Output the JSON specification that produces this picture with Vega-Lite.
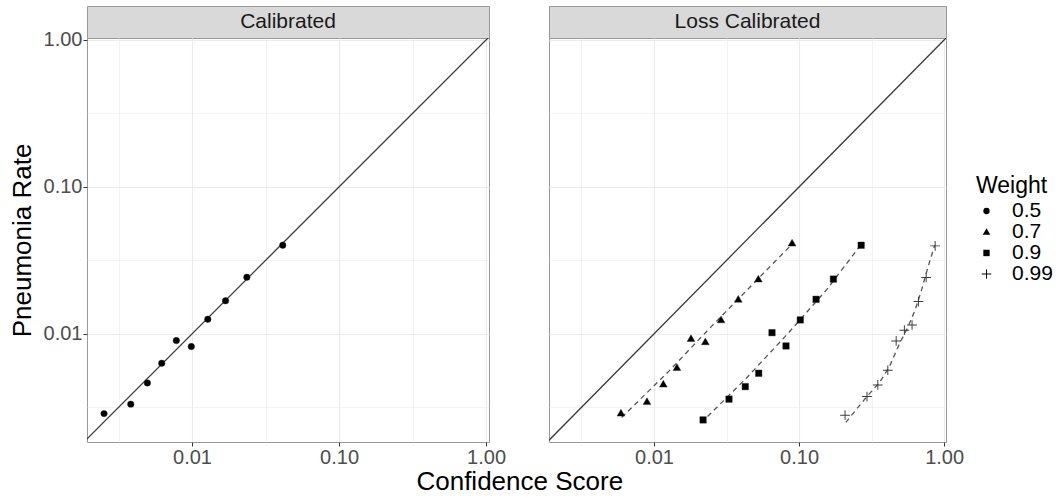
{
  "$schema": "https://vega.github.io/schema/vega-lite/v6.json",
  "padding": {"left": 8, "top": 5, "right": 5, "bottom": 5},
  "datasets": {
    "strips": [{"panel": "Calibrated"}, {"panel": "Loss Calibrated"}],
    "diag": [{"score": 0.001, "rate": 0.001}, {"score": 2, "rate": 2}],
    "pts": [
      {"panel": "Calibrated", "weight": "0.5", "score": 0.00252, "rate": 0.00287},
      {"panel": "Calibrated", "weight": "0.5", "score": 0.00383, "rate": 0.00333},
      {"panel": "Calibrated", "weight": "0.5", "score": 0.00497, "rate": 0.00464},
      {"panel": "Calibrated", "weight": "0.5", "score": 0.00622, "rate": 0.00632},
      {"panel": "Calibrated", "weight": "0.5", "score": 0.00782, "rate": 0.00901},
      {"panel": "Calibrated", "weight": "0.5", "score": 0.00989, "rate": 0.0082},
      {"panel": "Calibrated", "weight": "0.5", "score": 0.0128, "rate": 0.0126},
      {"panel": "Calibrated", "weight": "0.5", "score": 0.0169, "rate": 0.0168},
      {"panel": "Calibrated", "weight": "0.5", "score": 0.0236, "rate": 0.0243},
      {"panel": "Calibrated", "weight": "0.5", "score": 0.0414, "rate": 0.0401},
      {"panel": "Loss Calibrated", "weight": "0.7", "score": 0.00592, "rate": 0.00289},
      {"panel": "Loss Calibrated", "weight": "0.7", "score": 0.00895, "rate": 0.00346},
      {"panel": "Loss Calibrated", "weight": "0.7", "score": 0.0116, "rate": 0.00455},
      {"panel": "Loss Calibrated", "weight": "0.7", "score": 0.0144, "rate": 0.0059},
      {"panel": "Loss Calibrated", "weight": "0.7", "score": 0.018, "rate": 0.00929},
      {"panel": "Loss Calibrated", "weight": "0.7", "score": 0.0226, "rate": 0.00883},
      {"panel": "Loss Calibrated", "weight": "0.7", "score": 0.029, "rate": 0.01245},
      {"panel": "Loss Calibrated", "weight": "0.7", "score": 0.0381, "rate": 0.0172},
      {"panel": "Loss Calibrated", "weight": "0.7", "score": 0.0524, "rate": 0.0236},
      {"panel": "Loss Calibrated", "weight": "0.7", "score": 0.0895, "rate": 0.0414},
      {"panel": "Loss Calibrated", "weight": "0.9", "score": 0.0218, "rate": 0.0026},
      {"panel": "Loss Calibrated", "weight": "0.9", "score": 0.0329, "rate": 0.0036},
      {"panel": "Loss Calibrated", "weight": "0.9", "score": 0.0426, "rate": 0.00438},
      {"panel": "Loss Calibrated", "weight": "0.9", "score": 0.0527, "rate": 0.0054},
      {"panel": "Loss Calibrated", "weight": "0.9", "score": 0.0651, "rate": 0.0102},
      {"panel": "Loss Calibrated", "weight": "0.9", "score": 0.0813, "rate": 0.00828},
      {"panel": "Loss Calibrated", "weight": "0.9", "score": 0.102, "rate": 0.01245},
      {"panel": "Loss Calibrated", "weight": "0.9", "score": 0.131, "rate": 0.0172},
      {"panel": "Loss Calibrated", "weight": "0.9", "score": 0.1725, "rate": 0.0236},
      {"panel": "Loss Calibrated", "weight": "0.9", "score": 0.268, "rate": 0.0401},
      {"panel": "Loss Calibrated", "weight": "0.99", "score": 0.2075, "rate": 0.0028},
      {"panel": "Loss Calibrated", "weight": "0.99", "score": 0.294, "rate": 0.00375},
      {"panel": "Loss Calibrated", "weight": "0.99", "score": 0.349, "rate": 0.0045},
      {"panel": "Loss Calibrated", "weight": "0.99", "score": 0.409, "rate": 0.00566},
      {"panel": "Loss Calibrated", "weight": "0.99", "score": 0.467, "rate": 0.00896},
      {"panel": "Loss Calibrated", "weight": "0.99", "score": 0.532, "rate": 0.0106},
      {"panel": "Loss Calibrated", "weight": "0.99", "score": 0.601, "rate": 0.0115},
      {"panel": "Loss Calibrated", "weight": "0.99", "score": 0.665, "rate": 0.0166},
      {"panel": "Loss Calibrated", "weight": "0.99", "score": 0.752, "rate": 0.0242},
      {"panel": "Loss Calibrated", "weight": "0.99", "score": 0.867, "rate": 0.0397}
    ],
    "dash": [
      {"weight": "0.7", "score": 0.00598, "rate": 0.0027},
      {"weight": "0.7", "score": 0.0125, "rate": 0.0055},
      {"weight": "0.7", "score": 0.025, "rate": 0.0113},
      {"weight": "0.7", "score": 0.05, "rate": 0.0227},
      {"weight": "0.7", "score": 0.092, "rate": 0.042},
      {"weight": "0.9", "score": 0.0234, "rate": 0.00274},
      {"weight": "0.9", "score": 0.0433, "rate": 0.005},
      {"weight": "0.9", "score": 0.0833, "rate": 0.01},
      {"weight": "0.9", "score": 0.155, "rate": 0.02},
      {"weight": "0.9", "score": 0.27, "rate": 0.041},
      {"weight": "0.99", "score": 0.21, "rate": 0.0025},
      {"weight": "0.99", "score": 0.29, "rate": 0.0037},
      {"weight": "0.99", "score": 0.36, "rate": 0.0047},
      {"weight": "0.99", "score": 0.42, "rate": 0.006},
      {"weight": "0.99", "score": 0.49, "rate": 0.0085},
      {"weight": "0.99", "score": 0.56, "rate": 0.011},
      {"weight": "0.99", "score": 0.63, "rate": 0.0145},
      {"weight": "0.99", "score": 0.7, "rate": 0.02},
      {"weight": "0.99", "score": 0.77, "rate": 0.028},
      {"weight": "0.99", "score": 0.86, "rate": 0.04}
    ]
  },
  "title": {"text": "Confidence Score", "orient": "bottom", "anchor": "middle", "fontSize": 26, "fontWeight": "normal", "color": "black", "font": "Liberation Sans", "offset": 1, "dx": -11},
  "spacing": 41,
  "resolve": {"scale": {"x": "independent", "y": "independent"}},
  "hconcat": [
    {
      "spacing": 0,
      "bounds": "flush",
      "vconcat": [
        {
          "width": 402, "height": 32,
          "data": {"name": "strips"},
          "transform": [{"filter": "datum.panel == 'Calibrated'"}],
          "view": {"fill": "#d9d9d9", "stroke": "#999999"},
          "mark": {"type": "text", "fontSize": 21, "color": "#1a1a1a", "font": "Liberation Sans"},
          "encoding": {"text": {"field": "panel"}}
        },
        {
          "width": 402, "height": 404,
          "encoding": {
            "x": {"field": "score", "type": "quantitative",
              "scale": {"type": "log", "domain": [0.00193, 1.047], "nice": false},
              "axis": {"title": null, "values": [0.00316227766, 0.01, 0.0316227766, 0.1, 0.316227766, 1],
                "labelExpr": "datum.value == 0.01 ? '0.01' : datum.value == 0.1 ? '0.10' : datum.value == 1 ? '1.00' : ''",
                "tickOpacity": {"condition": {"test": "datum.value == 0.01 || datum.value == 0.1 || datum.value == 1", "value": 1}, "value": 0},
                "gridWidth": {"condition": {"test": "datum.value == 0.01 || datum.value == 0.1 || datum.value == 1", "value": 1.1}, "value": 0.6}}},
            "y": {"field": "rate", "type": "quantitative",
              "scale": {"type": "log", "domain": [0.00184, 1.03], "nice": false},
              "axis": {"title": "Pneumonia Rate", "values": [0.00316227766, 0.01, 0.0316227766, 0.1, 0.316227766, 1],
                "labelExpr": "datum.value == 0.01 ? '0.01' : datum.value == 0.1 ? '0.10' : datum.value == 1 ? '1.00' : ''",
                "tickOpacity": {"condition": {"test": "datum.value == 0.01 || datum.value == 0.1 || datum.value == 1", "value": 1}, "value": 0},
                "gridWidth": {"condition": {"test": "datum.value == 0.01 || datum.value == 0.1 || datum.value == 1", "value": 1.1}, "value": 0.6}}}
          },
          "layer": [
            {
              "data": {"name": "diag"},
              "mark": {"type": "line", "color": "#3a3a3a", "strokeWidth": 1.3, "clip": true}
            },
            {
              "data": {"name": "pts"},
              "transform": [{"filter": "datum.panel == 'Calibrated'"}],
              "mark": {"type": "point", "filled": true, "fill": "black", "stroke": "#222222", "strokeWidth": 0.4, "size": 42, "opacity": 1},
              "encoding": {
                "shape": {"field": "weight", "type": "nominal",
                  "scale": {"domain": ["0.5", "0.7", "0.9", "0.99"], "range": ["circle", "M0,-1.2L1.2,0.9L-1.2,0.9Z", "square", "M-1.5,-0.15H-0.15V-1.5H0.15V-0.15H1.5V0.15H0.15V1.5H-0.15V0.15H-1.5Z"]},
                  "legend": {"title": "Weight", "orient": "none", "legendX": 889, "legendY": 169,
                    "titleFontSize": 23, "titleFontWeight": "normal", "titleColor": "black", "titleFont": "Liberation Sans",
                    "labelFontSize": 21, "labelColor": "black", "labelFont": "Liberation Sans",
                    "symbolSize": 40, "symbolFillColor": "black", "symbolStrokeColor": "#222222", "symbolStrokeWidth": 0.4,
                    "clipHeight": 20, "rowPadding": 0, "labelOffset": 15, "titlePadding": 3}}
              }
            }
          ]
        }
      ]
    },
    {
      "spacing": 0,
      "bounds": "flush",
      "vconcat": [
        {
          "width": 397, "height": 32,
          "data": {"name": "strips"},
          "transform": [{"filter": "datum.panel == 'Loss Calibrated'"}],
          "view": {"fill": "#d9d9d9", "stroke": "#999999"},
          "mark": {"type": "text", "fontSize": 21, "color": "#1a1a1a", "font": "Liberation Sans"},
          "encoding": {"text": {"field": "panel"}}
        },
        {
          "width": 397, "height": 404,
          "encoding": {
            "x": {"field": "score", "type": "quantitative",
              "scale": {"type": "log", "domain": [0.00189, 1.03], "nice": false},
              "axis": {"title": null, "values": [0.00316227766, 0.01, 0.0316227766, 0.1, 0.316227766, 1],
                "labelExpr": "datum.value == 0.01 ? '0.01' : datum.value == 0.1 ? '0.10' : datum.value == 1 ? '1.00' : ''",
                "tickOpacity": {"condition": {"test": "datum.value == 0.01 || datum.value == 0.1 || datum.value == 1", "value": 1}, "value": 0},
                "gridWidth": {"condition": {"test": "datum.value == 0.01 || datum.value == 0.1 || datum.value == 1", "value": 1.1}, "value": 0.6}}},
            "y": {"field": "rate", "type": "quantitative",
              "scale": {"type": "log", "domain": [0.00184, 1.03], "nice": false},
              "axis": {"title": null, "labels": false, "ticks": false, "values": [0.00316227766, 0.01, 0.0316227766, 0.1, 0.316227766, 1],
                "gridWidth": {"condition": {"test": "datum.value == 0.01 || datum.value == 0.1 || datum.value == 1", "value": 1.1}, "value": 0.6}}}
          },
          "layer": [
            {
              "data": {"name": "diag"},
              "mark": {"type": "line", "color": "#3a3a3a", "strokeWidth": 1.3, "clip": true}
            },
            {
              "data": {"name": "dash"},
              "mark": {"type": "line", "color": "#555555", "strokeWidth": 1.3, "strokeDash": [5, 4]},
              "encoding": {"detail": {"field": "weight", "type": "nominal"}}
            },
            {
              "data": {"name": "pts"},
              "transform": [{"filter": "datum.panel == 'Loss Calibrated'"}],
              "mark": {"type": "point", "filled": true, "fill": "black", "stroke": "#222222", "strokeWidth": 0.4, "size": 42, "opacity": 1},
              "encoding": {
                "shape": {"field": "weight", "type": "nominal",
                  "scale": {"domain": ["0.5", "0.7", "0.9", "0.99"], "range": ["circle", "M0,-1.2L1.2,0.9L-1.2,0.9Z", "square", "M-1.5,-0.15H-0.15V-1.5H0.15V-0.15H1.5V0.15H0.15V1.5H-0.15V0.15H-1.5Z"]}},
                "fill": {"condition": {"test": "datum.weight == '0.99'", "value": "#3a3a3a"}, "value": "black"},
                "strokeWidth": {"condition": {"test": "datum.weight == '0.99'", "value": 0}, "value": 0.4}
              }
            }
          ]
        }
      ]
    }
  ],
  "config": {
    "font": "Liberation Sans",
    "view": {"stroke": "#999999", "strokeWidth": 1},
    "axis": {
      "domain": false,
      "gridColor": "#ebebeb",
      "tickColor": "#333333",
      "tickSize": 4,
      "tickWidth": 1,
      "labelFont": "Liberation Sans",
      "labelFontSize": 20,
      "labelColor": "#4d4d4d",
      "labelPadding": 1,
      "labelFlush": false,
      "labelOverlap": false,
      "titleFont": "Liberation Sans",
      "titleFontSize": 26,
      "titleFontWeight": "normal",
      "titleColor": "black",
      "titlePadding": 8
    }
  }
}
